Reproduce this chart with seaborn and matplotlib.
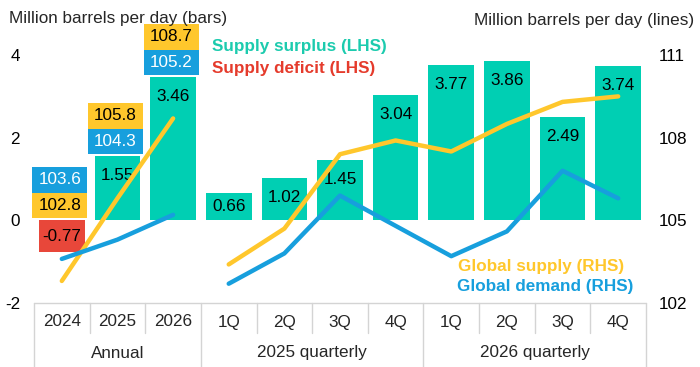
import matplotlib
matplotlib.use("Agg")
import matplotlib.pyplot as plt
import seaborn as sns
import pandas as pd
from matplotlib.patches import Rectangle
from matplotlib.transforms import blended_transform_factory

# ---- data ----
categories = ["2024", "2025", "2026", "1Q", "2Q", "3Q", "4Q", "1Q", "2Q", "3Q", "4Q"]
groups = ["Annual", "2025 quarterly", "2026 quarterly"]
group_sizes = [3, 4, 4]
balance = [-0.77, 1.55, 3.46, 0.66, 1.02, 1.45, 3.04, 3.77, 3.86, 2.49, 3.74]
supply = [102.8, 105.8, 108.7, 103.4, 104.7, 107.4, 107.9, 107.5, 108.5, 109.3, 109.5]
demand = [103.6, 104.3, 105.2, 102.7, 103.8, 105.9, 104.8, 103.7, 104.6, 106.8, 105.8]
left_ticks = [-2, 0, 2, 4]
right_ticks = [102, 105, 108, 111]

TEAL = "#00CFB3"
RED = "#E8473A"
YELLOW = "#FFC72C"
BLUE = "#179FDD"
GRID = "#D4D4D4"

sns.set_theme(style="white")
plt.rcParams["font.family"] = ["Liberation Sans", "DejaVu Sans"]
FS = 12.3

W, H = 700, 367
fig = plt.figure(figsize=(W / 100, H / 100), dpi=100)
ax_left, ax_right, ax_bot, ax_top = 34, 646, 303, 22
ax = fig.add_axes([ax_left / W, 1 - ax_bot / H, (ax_right - ax_left) / W, (ax_bot - ax_top) / H])

group_of = []
for g, n in zip(groups, group_sizes):
    group_of += [g] * n
keys = [f"{g}|{c}" for g, c in zip(group_of, categories)]
df = pd.DataFrame({"key": keys, "balance": balance,
                   "sign": ["surplus" if v >= 0 else "deficit" for v in balance]})

sns.barplot(data=df, x="key", y="balance", hue="sign", order=keys,
            palette={"surplus": TEAL, "deficit": RED}, dodge=False,
            width=0.82, saturation=1, linewidth=0, legend=False, ax=ax)

YMIN, YMAX = -2, 4.8
ax.set_xlim(-0.5, len(keys) - 0.5)
ax.set_ylim(YMIN, YMAX)
ax.set_xlabel("")
ax.set_ylabel("")
ax.set_xticks([])
ax.set_yticks(left_ticks)
ax.set_yticklabels([str(t) for t in left_ticks])
ax.tick_params(axis="y", length=0, pad=10, labelsize=FS, colors="black")
for s in ax.spines.values():
    s.set_visible(False)

# bar value labels
for i, v in enumerate(balance):
    if v > 0.95:
        ax.annotate(f"{v:.2f}", (i, v), xytext=(0, -14), textcoords="offset points",
                    ha="center", va="center", fontsize=FS, color="black")
    else:
        ax.text(i, v / 2, f"{v:.2f}", ha="center", va="center", fontsize=FS, color="black")

# annual value boxes (supply / demand)
box_h = 0.62
for i in range(group_sizes[0]):
    base = max(balance[i], 0) + 0.05
    items = sorted([(supply[i], YELLOW, "black"), (demand[i], BLUE, "white")], key=lambda t: t[0])
    for k, (val, col, tcol) in enumerate(items):
        y0 = base + k * box_h
        ax.add_patch(Rectangle((i - 0.53, y0), 0.99, box_h, facecolor=col,
                               edgecolor="none", clip_on=False, zorder=3))
        ax.text(i - 0.035, y0 + box_h / 2, f"{val:.1f}", ha="center", va="center",
                fontsize=FS, color=tcol, zorder=4, clip_on=False)

# lines on right axis
ax2 = ax.twinx()
ax2.set_ylim(105 + 1.5 * YMIN, 105 + 1.5 * YMAX)
pos = list(range(len(keys)))
start = 0
for n in group_sizes[:1] + [sum(group_sizes[1:])]:
    seg = slice(start, start + n)
    sns.lineplot(x=pos[seg], y=supply[seg], ax=ax2, color=YELLOW, lw=3.2,
                 sort=False, estimator=None, solid_capstyle="round")
    sns.lineplot(x=pos[seg], y=demand[seg], ax=ax2, color=BLUE, lw=3.2,
                 sort=False, estimator=None, solid_capstyle="round")
    start += n
ax2.set_yticks(right_ticks)
ax2.set_yticklabels([str(t) for t in right_ticks])
ax2.tick_params(axis="y", length=0, pad=9.5, labelsize=FS, colors="black")
ax2.set_xticks([])
ax2.set_ylabel("")
for s in ax2.spines.values():
    s.set_visible(False)
ax2.set_xlim(-0.5, len(keys) - 0.5)

# titles
fig.text(9 / W, 1 - 18 / H, "Million barrels per day (bars)", ha="left", va="center", fontsize=FS)
fig.text(694 / W, 1 - 21 / H, "Million barrels per day (lines)", ha="right", va="center", fontsize=FS)

# legend texts
fig.text(212 / W, 1 - 46 / H, "Supply surplus (LHS)", color="#1CCBAE", fontsize=FS,
         fontweight="bold", ha="left", va="center")
fig.text(212 / W, 1 - 69 / H, "Supply deficit (LHS)", color="#E53B2C", fontsize=FS,
         fontweight="bold", ha="left", va="center")
fig.text(458 / W, 1 - 266 / H, "Global supply (RHS)", color=YELLOW, fontsize=FS,
         fontweight="bold", ha="left", va="center")
fig.text(457 / W, 1 - 287 / H, "Global demand (RHS)", color=BLUE, fontsize=FS,
         fontweight="bold", ha="left", va="center")

# category table
tr = blended_transform_factory(ax.transData, fig.transFigure)
y_top = 1 - 303 / H
y_mid = 1 - 333 / H
y_bot = 0.0
n = len(keys)
ax.plot([-0.5, n - 0.5], [y_top, y_top], transform=tr, color=GRID, lw=1, clip_on=False)
bounds = [0]
for g in group_sizes:
    bounds.append(bounds[-1] + g)
for b in range(n + 1):
    full = b in bounds
    ax.plot([b - 0.5, b - 0.5], [y_top, y_bot if full else y_mid], transform=tr,
            color=GRID, lw=1, clip_on=False)
for i, c in enumerate(categories):
    ax.text(i, 1 - 322 / H, c, transform=tr, ha="center", va="center", fontsize=FS)
for gi, g in enumerate(groups):
    cx = (bounds[gi] + bounds[gi + 1] - 1) / 2
    ax.text(cx, 1 - 353 / H, g, transform=tr, ha="center", va="center", fontsize=FS)

fig.savefig("out.png", dpi=100)
